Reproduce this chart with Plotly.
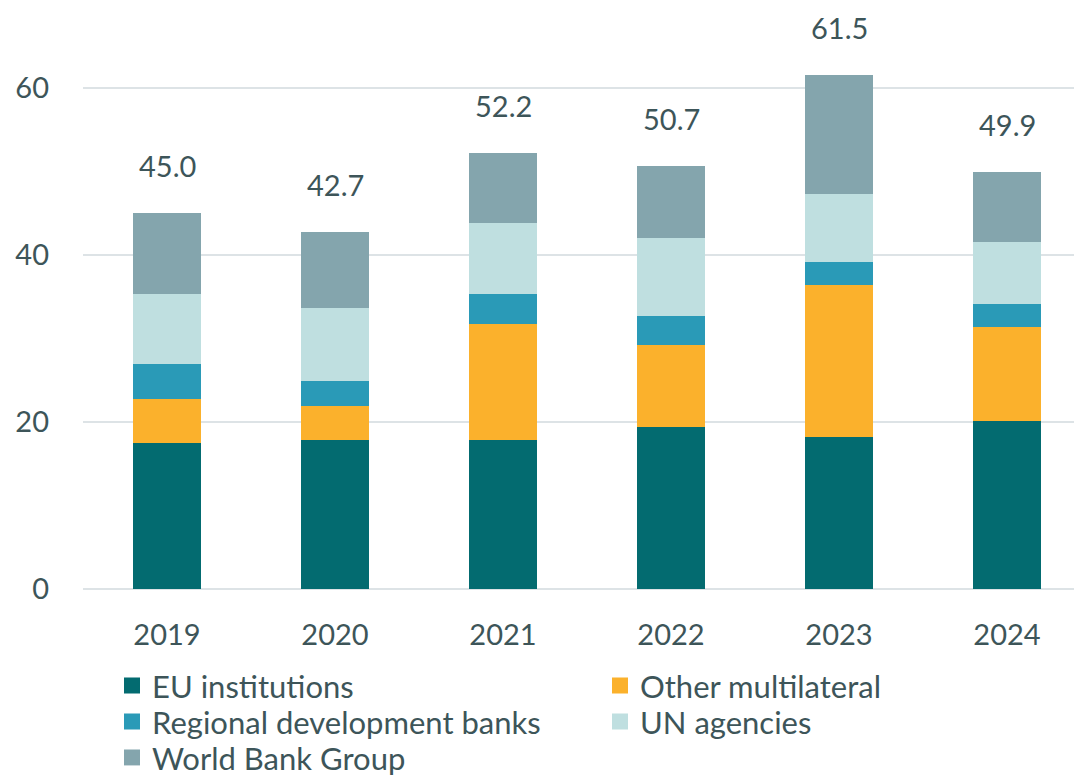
import plotly.graph_objects as go

years = ["2019", "2020", "2021", "2022", "2023", "2024"]
eu_institutions = [17.5, 17.8, 17.8, 19.4, 18.2, 20.1]
other_multilateral = [5.3, 4.1, 13.9, 9.8, 18.2, 11.3]
regional_banks = [4.1, 3.0, 3.6, 3.5, 2.8, 2.7]
un_agencies = [8.4, 8.8, 8.5, 9.3, 8.1, 7.5]
world_bank = [9.7, 9.0, 8.4, 8.7, 14.2, 8.3]
totals = [45.0, 42.7, 52.2, 50.7, 61.5, 49.9]

series = [
    ("EU institutions", eu_institutions, "#036b70", "legend"),
    ("Other multilateral", other_multilateral, "#fbb12c", "legend"),
    ("Regional development banks", regional_banks, "#2a9ab7", "legend2"),
    ("UN agencies", un_agencies, "#bfdfe0", "legend2"),
    ("World Bank Group", world_bank, "#84a5ad", "legend3"),
]

TXT = "#3d5559"
FONT = "Lato"

fig = go.Figure()
for name, vals, col, lg in series:
    fig.add_trace(go.Bar(x=years, y=vals, name=name, marker=dict(color=col, line=dict(width=0)),
                         width=0.4, showlegend=False))
    # legend entry (no data drawn)
    fig.add_trace(go.Scatter(x=[None], y=[None], mode="markers", name=name, legend=lg,
                             marker=dict(symbol="square", size=20, color=col, line=dict(width=0)),
                             showlegend=True, hoverinfo="skip"))

for i, t in enumerate(totals):
    fig.add_annotation(x=i, y=t, text=f"{t:.1f}", showarrow=False, yanchor="bottom",
                       yshift=28, font=dict(size=29, color=TXT, family=FONT))

leg_common = dict(orientation="h", x=0.0288, xanchor="left", yanchor="middle",
                  entrywidth=443, entrywidthmode="pixels", traceorder="normal",
                  font=dict(size=31, color=TXT, family=FONT), itemwidth=30,
                  bgcolor="rgba(0,0,0,0)")

fig.update_layout(
    barmode="stack",
    width=1082, height=775,
    margin=dict(l=75, r=0, t=5, b=194, autoexpand=False),
    plot_bgcolor="white", paper_bgcolor="white",
    font=dict(family=FONT, size=29, color=TXT),
    showlegend=True,
    legend=dict(**leg_common, y=-0.1680),
    legend2=dict(**leg_common, y=-0.2305),
    legend3=dict(**leg_common, y=-0.2930),
    xaxis=dict(type="category", range=[-0.5, 5.494], showgrid=False, showline=False, ticks="",
               ticklabelstandoff=26, tickfont=dict(size=29, color=TXT)),
    yaxis=dict(range=[0, 68.98], tickvals=[0, 20, 40, 60], showgrid=True,
               gridcolor="#dde3e6", gridwidth=2, zeroline=True, zerolinecolor="#dde3e6",
               zerolinewidth=2, showline=False, ticks="", ticklabelstandoff=33,
               tickfont=dict(size=29, color=TXT)),
)

fig.write_html("out.html")
